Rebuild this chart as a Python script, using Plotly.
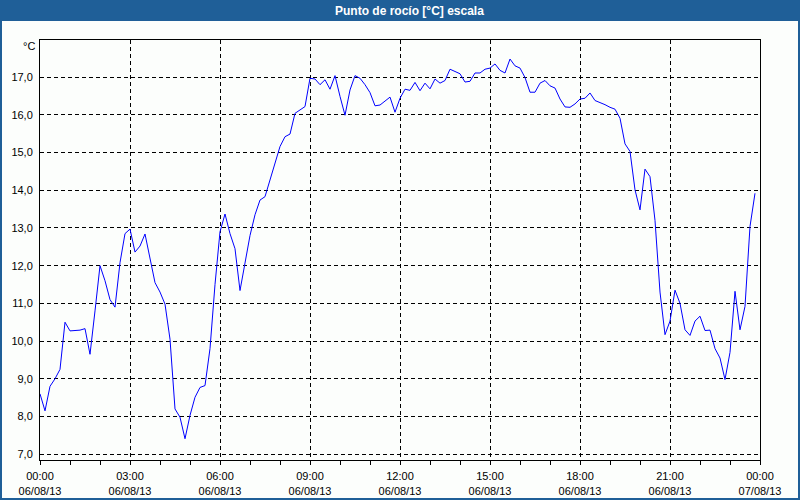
import datetime as dt
import plotly.graph_objects as go

# Data: dew point every 10 minutes, 06/08/13 00:00 .. 23:50
start = dt.datetime(2013, 8, 6, 0, 0)
dew_point = [
    8.6, 8.15, 8.8, 9.0, 9.25, 10.5, 10.27, 10.28, 10.29, 10.33,
    9.65, 10.8, 12.0, 11.6, 11.1, 10.9, 12.08, 12.85, 12.97, 12.36,
    12.52, 12.84, 12.16, 11.55, 11.3, 10.98, 10.05, 8.2, 7.98, 7.41,
    8.03, 8.51, 8.77, 8.82, 9.8, 11.5, 12.9, 13.37, 12.85, 12.45,
    11.34, 12.05, 12.8, 13.35, 13.74, 13.83, 14.27, 14.67, 15.16, 15.42,
    15.49, 16.04, 16.13, 16.22, 16.97, 16.95, 16.8, 16.93, 16.68, 17.04,
    16.49, 15.99, 16.66, 17.04, 16.97, 16.8, 16.59, 16.24, 16.26, 16.37,
    16.47, 16.07, 16.44, 16.68, 16.65, 16.86, 16.64, 16.84, 16.69, 16.95,
    16.84, 16.91, 17.21, 17.15, 17.09, 16.87, 16.89, 17.11, 17.11, 17.21,
    17.24, 17.35, 17.18, 17.11, 17.48, 17.3, 17.24, 16.99, 16.6, 16.6,
    16.84, 16.91, 16.77, 16.71, 16.42, 16.21, 16.2, 16.29, 16.42, 16.44,
    16.58, 16.38, 16.33, 16.27, 16.2, 16.15, 15.91, 15.23, 15.03, 14.01,
    13.48, 14.56, 14.36, 13.2, 11.3, 10.17, 10.53, 11.35, 11.0, 10.3,
    10.15, 10.53, 10.66, 10.28, 10.29, 9.8, 9.55, 8.98, 9.7, 11.32,
    10.3, 10.92, 13.04, 13.92,
]
times = [start + dt.timedelta(minutes=10 * i) for i in range(len(dew_point))]

title_text = "Punto de rocío [°C] escala"
unit_label = "°C"
x_range = ["2013-08-06 00:00", "2013-08-07 00:00"]
y_range = [6.846, 17.985]

BLUE = "#1F5F98"
BG = "#FCFEFC"
FONT = "Liberation Sans"

fig = go.Figure()
fig.add_trace(go.Scatter(
    x=times, y=dew_point, mode="lines",
    line=dict(color="#0000FF", width=1),
    hoverinfo="skip", showlegend=False,
))

W, H = 720.0, 420.0  # plot area size
def px(x):
    return (x - 40) / W
def py(y):
    return (460 - y) / H

fig.update_layout(
    width=800, height=500,
    margin=dict(l=40, r=40, t=40, b=40, autoexpand=False),
    paper_bgcolor=BG, plot_bgcolor=BG,
    separators=",.",
    font=dict(family=FONT, size=11, color="#000000"),
    showlegend=False,
    shapes=[
        # title bar
        dict(type="rect", xref="paper", yref="paper",
             x0=px(0), x1=px(800), y0=py(21), y1=py(0),
             fillcolor=BLUE, line=dict(width=0), layer="below"),
        # outer frame
        dict(type="rect", xref="paper", yref="paper",
             x0=px(1), x1=px(799), y0=py(499), y1=py(1),
             line=dict(color=BLUE, width=2), fillcolor="rgba(0,0,0,0)"),
    ],
    annotations=[
        dict(text="<b>" + title_text + "</b>", xref="paper", yref="paper",
             x=px(409.5), y=py(10.5), xanchor="center", yanchor="middle",
             showarrow=False, font=dict(family=FONT, size=12, color="white")),
        dict(text=unit_label, xref="paper", yref="paper",
             x=px(37), y=py(46), xanchor="right", yanchor="middle",
             showarrow=False, font=dict(family=FONT, size=11, color="#000000")),
    ],
)

fig.update_xaxes(
    type="date", range=x_range, automargin=False,
    dtick=3 * 3600 * 1000, tick0="2013-08-06 00:00",
    tickformat="%H:%M<br>%d/%m/%y",
    ticks="outside", ticklen=4, tickcolor="#000000", tickwidth=1,
    ticklabelstandoff=2,
    minor=dict(dtick=3600 * 1000, ticks="outside", ticklen=4,
               tickcolor="#000000", showgrid=False),
    showgrid=True, gridcolor="#000000", gridwidth=1, griddash="4px,3px",
    showline=True, linecolor="#000000", linewidth=1, mirror=True,
    zeroline=False, fixedrange=True,
    tickfont=dict(family=FONT, size=11, color="#000000"),
)
fig.update_yaxes(
    range=y_range, dtick=1, tick0=7, tickformat=".1f", automargin=False,
    ticks="", ticklabelstandoff=4,
    showgrid=True, gridcolor="#000000", gridwidth=1, griddash="4px,3px",
    showline=True, linecolor="#000000", linewidth=1, mirror=True,
    zeroline=False, fixedrange=True,
    tickfont=dict(family=FONT, size=11, color="#000000"),
)

fig.write_html("out.html")
